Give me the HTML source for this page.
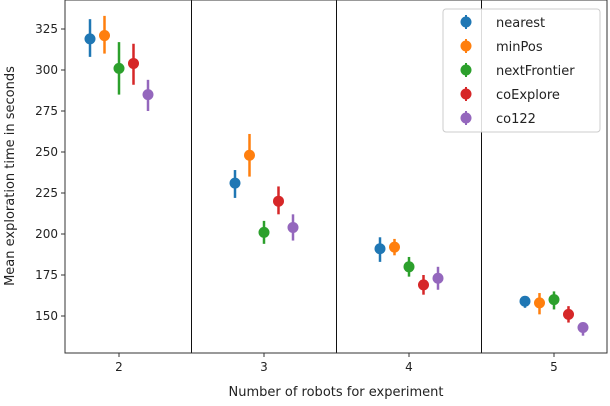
<!DOCTYPE html>
<html><head><meta charset="utf-8"><style>
body{margin:0;background:#fff;font-family:"DejaVu Sans","Liberation Sans",sans-serif;}
svg text{font-family:"DejaVu Sans","Liberation Sans",sans-serif;fill:#222;}
</style></head><body>
<svg id="chart" width="610" height="402"></svg>
<script>
const categories=[2,3,4,5];
const seriesNames=["nearest","minPos","nextFrontier","coExplore","co122"];
const colors=["#1f77b4","#ff7f0e","#2ca02c","#d62728","#9467bd"];
const means=[[319,231,191,159],[321,248,192,158],[301,201,180,160],[304,220,169,151],[285,204,173,143]];
const lows=[[308,222,183,155],[310,235,187,151],[285,194,174,154],[291,212,163,146],[275,196,166,138]];
const highs=[[331,239,198,162],[333,261,197,164],[317,208,186,165],[316,229,175,156],[294,212,180,146]];
const yTicks=[150,175,200,225,250,275,300,325];
const NS="http://www.w3.org/2000/svg";
const svg=document.getElementById('chart');
const X=v=>119+(v-2)*145;
const Y=v=>316-(v-150)*1.64;
function mk(t,a,p){const e=document.createElementNS(NS,t);for(const k in a)e.setAttribute(k,a[k]);(p||svg).appendChild(e);return e;}
const L=65,R=607,T=0,B=353;
for(const d of [2.5,3.5,4.5]){const l=mk('line',{x1:X(d),x2:X(d),y1:T,y2:B,stroke:'#111','stroke-width':1});

}
const fr=mk('rect',{x:L,y:T,width:R-L,height:B-T,fill:'none',stroke:'#333','stroke-width':1});


yTicks.forEach(v=>{const y=Y(v);mk('line',{x1:L-4,x2:L,y1:y,y2:y,stroke:'#333'});
const t=mk('text',{x:L-7,y:y+4,'text-anchor':'end','font-size':12});t.textContent=v;

});
categories.forEach(c=>{const x=X(c);mk('line',{x1:x,x2:x,y1:B,y2:B+4,stroke:'#333'});
const t=mk('text',{x:x,y:B+18,'text-anchor':'middle','font-size':12});t.textContent=c;

});
const xt=mk('text',{x:336,y:396,'text-anchor':'middle','font-size':13});xt.textContent='Number of robots for experiment';


const yt=mk('text',{x:0,y:0,'text-anchor':'middle','font-size':13,transform:'translate(14,176) rotate(-90)'});yt.textContent='Mean exploration time in seconds';


seriesNames.forEach((s,i)=>{const off=(i-2)*0.1;
categories.forEach((c,j)=>{const x=X(c+off);
const e=mk('line',{x1:x,x2:x,y1:Y(lows[i][j]),y2:Y(highs[i][j]),stroke:colors[i],'stroke-width':2.5});


const p=mk('circle',{cx:x,cy:Y(means[i][j]),r:5.5,fill:colors[i]});

});});
const lg=mk('g',{});


mk('rect',{x:443,y:9,width:157,height:123,rx:3,fill:'#fff','fill-opacity':0.85,stroke:'#ccc'},lg);
seriesNames.forEach((s,i)=>{const y=22+i*24;
const g=mk('g',{},lg);


mk('line',{x1:466,x2:466,y1:y-7,y2:y+7,stroke:colors[i],'stroke-width':2},g);
mk('circle',{cx:466,cy:y,r:5.5,fill:colors[i]},g);
const t=mk('text',{x:496,y:y+5,'font-size':13},g);t.textContent=s;});
</script>
</body></html>
